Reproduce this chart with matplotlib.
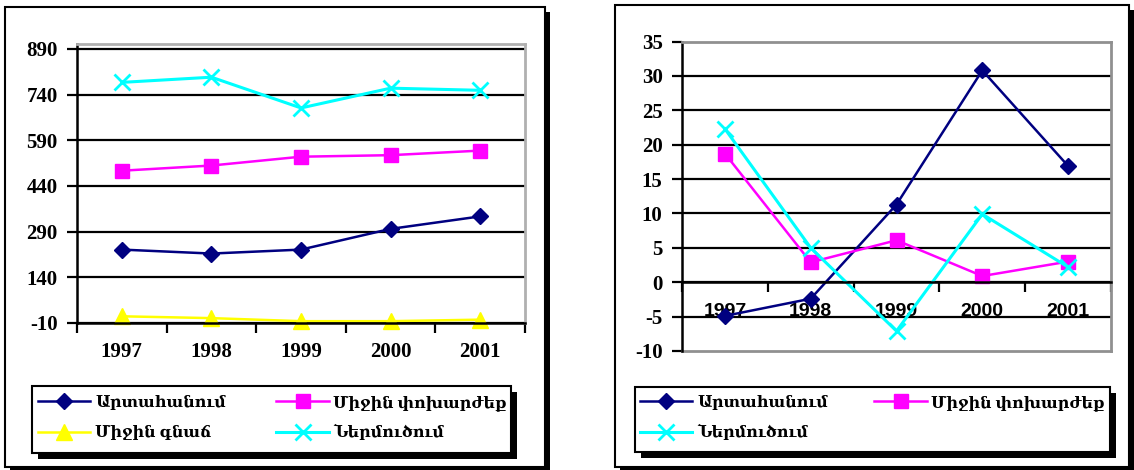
import matplotlib.pyplot as plt
from matplotlib.patches import Rectangle
import numpy as np

plt.rcParams['font.family'] = ['Liberation Serif', 'DejaVu Serif']
plt.rcParams['font.weight'] = 'bold'
plt.rcParams['axes.unicode_minus'] = False

years = ['1997', '1998', '1999', '2000', '2001']

# bacardzak mecutyunner
artahanum = [231, 218, 231, 299, 340]
mijin_poxarjeq = [490, 507, 536, 541, 556]
mijin_gnach = [12, 6, -4, -4, 1]
nermucum = [780, 797, 696, 761, 754]

# ajy, %
artahanum_aj = [-4.9, -2.4, 11.3, 30.8, 16.9]
poxarjeq_aj = [18.7, 2.9, 6.1, 0.9, 3.0]
nermucum_aj = [22.3, 5.0, -7.1, 9.9, 2.2]

lbl_art = 'Արտահանում'
lbl_pox = 'Միջին փոխարժեք'
lbl_gn = 'Միջին գնաճ'
lbl_ner = 'Ներմուծում'

W, H = 1134, 470
fig = plt.figure(figsize=(W / 100, H / 100), dpi=100)


def px(x0, y0, x1, y1):
    # pixel box (top-left origin) -> figure fraction rect
    return [x0 / W, (H - y1) / H, (x1 - x0) / W, (y1 - y0) / H]


def box(x0, y0, x1, y1, sh=5, lw=1.5, z=0):
    fig.add_artist(Rectangle((x0 / W + sh / W, (H - y1 - sh) / H), (x1 - x0) / W, (y1 - y0) / H,
                             transform=fig.transFigure, facecolor='black', edgecolor='none', zorder=z))
    fig.add_artist(Rectangle((x0 / W, (H - y1) / H), (x1 - x0) / W, (y1 - y0) / H,
                             transform=fig.transFigure, facecolor='white', edgecolor='black',
                             linewidth=lw, zorder=z + 0.1))


box(5, 7, 545, 467)
box(615, 5, 1129, 467)
box(32, 386, 511, 453, sh=6, z=3)
box(635, 387, 1110, 452, sh=6, z=3)

sty = dict(
    art=dict(color='#000080', marker='D', markersize=8, linewidth=1.8),
    pox=dict(color='#FF00FF', marker='s', markersize=10, linewidth=1.8),
    gn=dict(color='#FFFF00', marker='^', markersize=11, linewidth=1.8),
    ner=dict(color='#00FFFF', marker='x', markersize=11, markeredgewidth=2, linewidth=2.2),
)


def setup(ax, lo, hi, step, ytop, pad):
    x = np.arange(len(years))
    ax.set_zorder(2)
    ax.set_xlim(-0.5, len(years) - 0.5)
    ax.set_ylim(lo, ytop)
    ax.set_yticks(np.arange(lo, hi + 1, step))
    ax.yaxis.grid(True, color='black', linewidth=1.6)
    ax.set_axisbelow(True)
    ax.set_xticks(np.arange(-0.5, len(years)))
    ax.set_xticklabels([])
    ax.set_xticks(x, minor=True)
    ax.set_xticklabels(years, minor=True)
    ax.tick_params(axis='x', which='minor', length=0, pad=pad, labelsize=15)
    ax.tick_params(axis='x', which='major', length=7, width=1.6, direction='out')
    ax.tick_params(axis='y', length=7, width=1.6, direction='out', pad=7, labelsize=15)
    for s in ['top', 'right']:
        ax.spines[s].set_color('#b0b0b0')
        ax.spines[s].set_linewidth(2)
    ax.spines['left'].set_linewidth(1.8)
    ax.spines['bottom'].set_linewidth(1.8)
    ax.patch.set_alpha(0)
    return x


# dzax grafik
ax1 = fig.add_axes(px(77, 44, 525, 323))
x = setup(ax1, -10, 890, 150, 906, 14)
h_art, = ax1.plot(x, artahanum, label=lbl_art, **sty['art'])
h_pox, = ax1.plot(x, mijin_poxarjeq, label=lbl_pox, **sty['pox'])
h_gn, = ax1.plot(x, mijin_gnach, label=lbl_gn, **sty['gn'])
h_ner, = ax1.plot(x, nermucum, label=lbl_ner, **sty['ner'])
for h in [h_art, h_pox, h_gn, h_ner]:
    h.set_clip_on(False)

# aj grafik
ax2 = fig.add_axes(px(682, 41.5, 1111, 351))
x = setup(ax2, -10, 35, 5, 35, 15)
ax2.spines['bottom'].set_position(('data', 0))
ax2.spines['top'].set_color('#909090')
ax2.spines['right'].set_color('#909090')
ax2.axhline(-10, color='#909090', linewidth=2, clip_on=False)
ax2.yaxis.get_gridlines()[-1].set_visible(False)
ax2.yaxis.get_gridlines()[0].set_visible(False)
for t in ax2.get_xticklabels(minor=True):
    t.set_fontfamily('Liberation Sans')
    t.set_fontsize(14)
g_art, = ax2.plot(x, artahanum_aj, label=lbl_art, **sty['art'])
g_pox, = ax2.plot(x, poxarjeq_aj, label=lbl_pox, **sty['pox'])
g_ner, = ax2.plot(x, nermucum_aj, label=lbl_ner, **sty['ner'])

leg_kw = dict(loc='upper left', ncol=2, frameon=False, handlelength=3.3,
              handletextpad=0.3, labelspacing=0.9, borderaxespad=0, borderpad=0,
              prop=dict(weight='bold', size=11.4))
l1 = fig.legend(handles=[h_art, h_gn, h_pox, h_ner], bbox_to_anchor=(38 / W, 1 - 395 / H),
                columnspacing=3.2, **leg_kw)
l2 = fig.legend(handles=[g_art, g_ner, g_pox], bbox_to_anchor=(640 / W, 1 - 395 / H),
                columnspacing=2.95, **leg_kw)
for lg in (l1, l2):
    lg.set_zorder(5)

fig.savefig('out.png', dpi=100)
